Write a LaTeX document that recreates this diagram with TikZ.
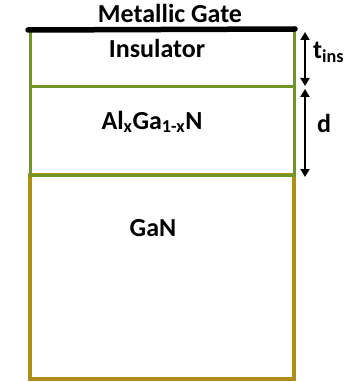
\documentclass[tikz,border=0pt]{standalone}
\usepackage{fontspec}
\setmainfont{Carlito}
\usetikzlibrary{arrows.meta}
\definecolor{lgreen}{RGB}{112,150,38}
\definecolor{lgold}{RGB}{176,140,26}
\tikzset{
  lbl/.style={font=\bfseries\fontsize{26}{30}\selectfont, inner sep=0pt},
  dim/.style={line width=1.8pt, {Triangle[length=8pt,width=9pt]}-{Triangle[length=8pt,width=9pt]}},
}
\begin{document}
\begin{tikzpicture}[x=1pt,y=-1pt]
\useasboundingbox (0,0) rectangle (360,382);
\draw[lgold, line width=4pt] (30,175) rectangle (294,379);
\draw[lgreen, line width=3pt] (30,87) rectangle (294,175);
\draw[lgreen, line width=3pt] (30,31) rectangle (294,87);
\draw[line width=5.5pt, line cap=round] (28,30) -- (295,29);
\node[lbl] (gate) at (170,13) {Metallic Gate};
\node[lbl] (ins) at (157,48) {Insulator};
\node[lbl] (algan) at (152,122) {Al\textsubscript{x}Ga\textsubscript{1-x}N};
\node[lbl] (gan) at (153,228) {GaN};
\coordinate (t1) at (305,32);
\coordinate (t2) at (305,86);
\coordinate (d1) at (305,89);
\coordinate (d2) at (305,177);
\draw[dim] (t1) -- (t2);
\draw[dim] (d1) -- (d2);
\node[lbl, anchor=west] (tins) at (313,52) {t\textsubscript{ins}};
\node[lbl, anchor=west] (d) at (317,123) {d};
\end{tikzpicture}
\end{document}
